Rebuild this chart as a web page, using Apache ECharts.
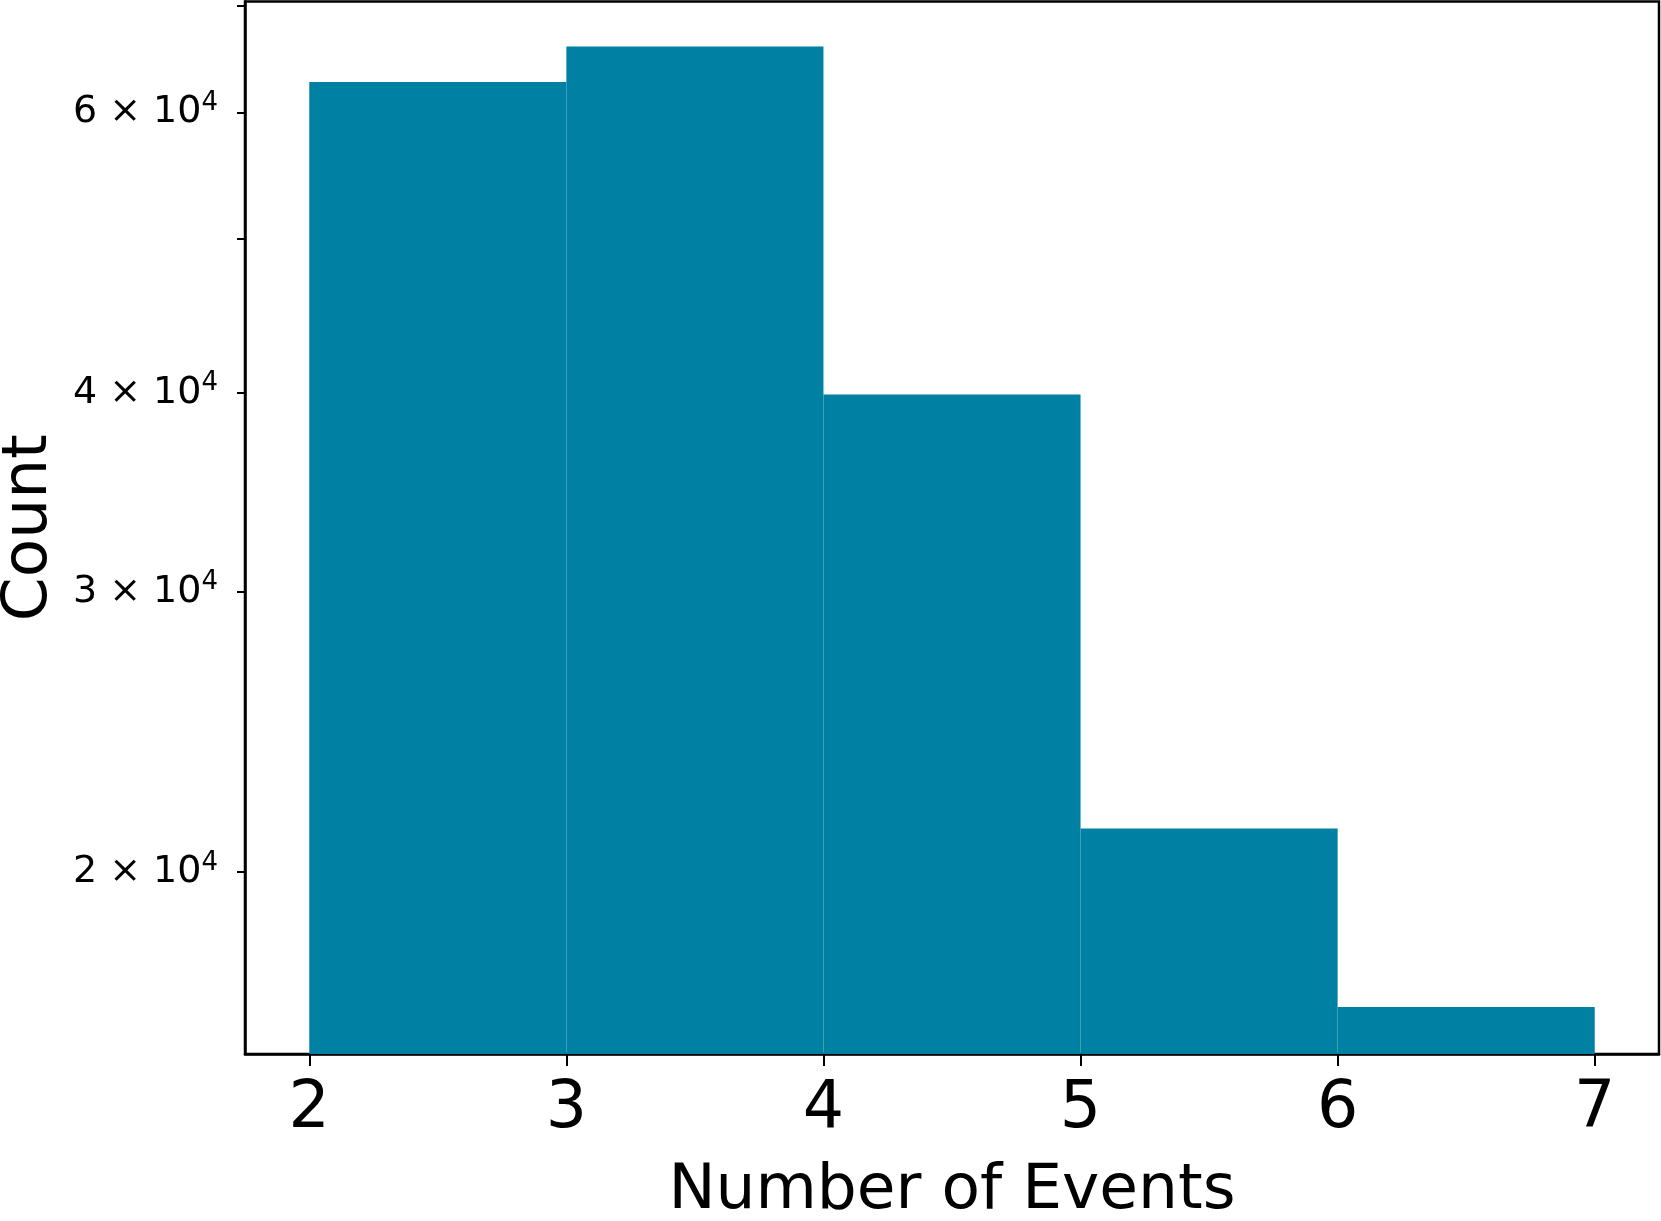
<!DOCTYPE html>
<html>
<head>
<meta charset="utf-8">
<script src="https://cdn.jsdelivr.net/npm/echarts@6/dist/echarts.min.js"></script>
<style>
html,body{margin:0;padding:0;background:#fff;}
#chart{width:1661px;height:1221px;}
</style>
</head>
<body>
<div id="chart"></div>
<script>
// Histogram bins (left edge, right edge) and counts
const binStarts = [2, 3, 4, 5, 6];
const binEnds   = [3, 4, 5, 6, 7];
const counts    = [62700, 66000, 39900, 21300, 16450];

const xTicks = [2, 3, 4, 5, 6, 7];
const yTicks = [20000, 30000, 40000, 50000, 60000, 70000];
const yTickLabels = [20000, 30000, 40000, 60000];

const xMin = 1.75, xMax = 7.25;
const yMin = 15370, yMax = 70440;

const barColor = '#0080a3';
const font = 'DejaVu Sans';

const data = binStarts.map((s, i) => [s, binEnds[i], counts[i]]);

const chart = echarts.init(document.getElementById('chart'), null, {renderer: 'canvas'});
chart.setOption({
  animation: false,
  backgroundColor: '#fff',
  grid: {
    left: 245, right: 2, top: 1.5, bottom: 167,
    containLabel: false, outerBoundsMode: 'none',
    show: true, borderColor: '#000', borderWidth: 2.5, backgroundColor: 'transparent'
  },
  xAxis: {
    type: 'value',
    min: xMin, max: xMax,
    name: 'Number of Events',
    nameLocation: 'middle',
    nameGap: 106,
    nameTextStyle: {fontFamily: font, fontSize: 63, color: '#000'},
    splitLine: {show: false},
    axisLine: {show: true, onZero: false, lineStyle: {color: '#000', width: 2.5}},
    axisTick: {show: true, length: 12, lineStyle: {color: '#000', width: 2}, customValues: xTicks},
    axisLabel: {
      show: true, margin: 24, fontFamily: font, fontSize: 65, color: '#000',
      customValues: xTicks,
      formatter: v => String(v)
    }
  },
  yAxis: {
    type: 'log',
    min: yMin, max: yMax,
    name: 'Count',
    nameLocation: 'middle',
    nameGap: 184,
    nameRotate: 90,
    nameTextStyle: {fontFamily: font, fontSize: 63, color: '#000'},
    splitLine: {show: false},
    minorTick: {show: false},
    axisLine: {show: true, onZero: false, lineStyle: {color: '#000', width: 2.5}},
    axisTick: {show: true, length: 8, lineStyle: {color: '#000', width: 2}, customValues: yTicks},
    axisLabel: {
      show: true, margin: 27,
      customValues: yTickLabels,
      formatter: v => '{m|' + Math.round(v / 10000) + ' × 10}{s|4}',
      rich: {
        m: {fontFamily: font, fontSize: 38, color: '#000', lineHeight: 44},
        s: {fontFamily: font, fontSize: 26, color: '#000', verticalAlign: 'top', lineHeight: 26}
      }
    }
  },
  series: [{
    type: 'custom',
    data: data,
    encode: {x: [0, 1], y: 2},
    clip: true,
    renderItem: function (params, api) {
      const x0 = api.value(0), x1 = api.value(1), y = api.value(2);
      const p0 = api.coord([x0, y]);
      const p1 = api.coord([x1, yMin]);
      return {
        type: 'rect',
        shape: {x: p0[0], y: p0[1], width: p1[0] - p0[0], height: p1[1] - p0[1]},
        style: {fill: barColor, stroke: null}
      };
    }
  }]
});
</script>
</body>
</html>
